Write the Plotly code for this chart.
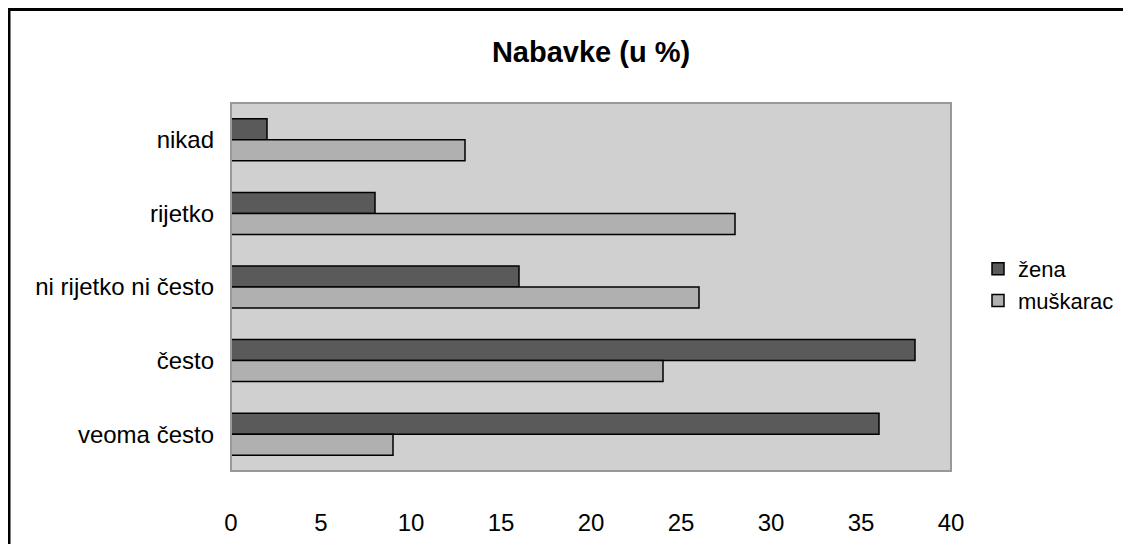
import plotly.graph_objects as go

categories = ["nikad", "rijetko", "ni rijetko ni često", "često", "veoma često"]
zena = [2, 8, 16, 38, 36]
muskarac = [13, 28, 26, 24, 9]
x_ticks = [0, 5, 10, 15, 20, 25, 30, 35, 40]

OFF = 8  # page body margin
W, H = 1131 - OFF, 544 - OFF
L, R, T, B = 231 - OFF, 951 - OFF, 103 - OFF, 471 - OFF

fig = go.Figure()
fig.add_trace(go.Bar(y=categories, x=zena, orientation="h", name="žena",
                     marker=dict(color="#5A5A5A", line=dict(color="black", width=1.5))))
fig.add_trace(go.Bar(y=categories, x=muskarac, orientation="h", name="muškarac",
                     marker=dict(color="#B0B0B0", line=dict(color="black", width=1.5))))

def px(x):
    return (x - OFF - L) / (R - L)

def py(y):
    return (B - (y - OFF)) / (B - T)

fig.update_layout(
    width=W, height=H,
    margin=dict(l=L, r=W - R, t=T, b=H - B, autoexpand=False),
    paper_bgcolor="white",
    plot_bgcolor="#D0D0D0",
    barmode="group",
    bargap=0.43,
    bargroupgap=0,
    font=dict(family="Liberation Sans, Arial", size=24, color="black"),
    title=dict(text="<b>Nabavke (u %)</b>", x=0.5, xanchor="center", xref="paper",
               y=1 - (52 - OFF) / H, yanchor="middle", font=dict(size=29)),
    xaxis=dict(range=[0, 40], tickvals=x_ticks, showgrid=False, zeroline=False,
               showline=False, ticks="", ticklabelstandoff=35),
    yaxis=dict(autorange="reversed", showgrid=False, zeroline=False, showline=False,
               ticks="", ticklabelstandoff=16),
    legend=dict(x=px(978), y=py(285), xanchor="left", yanchor="middle",
                bgcolor="rgba(0,0,0,0)", font=dict(size=22), itemwidth=30,
                tracegroupgap=0),
    showlegend=True,
    shapes=[
        dict(type="rect", xref="paper", yref="paper", x0=0, x1=1, y0=0, y1=1,
             line=dict(color="#999999", width=2), fillcolor="rgba(0,0,0,0)", layer="above"),
        dict(type="rect", xref="paper", yref="paper", x0=px(9), x1=px(1150), y0=py(560), y1=py(9.5),
             line=dict(color="black", width=3), fillcolor="rgba(0,0,0,0)"),
    ],
)

fig.write_html("out.html")
